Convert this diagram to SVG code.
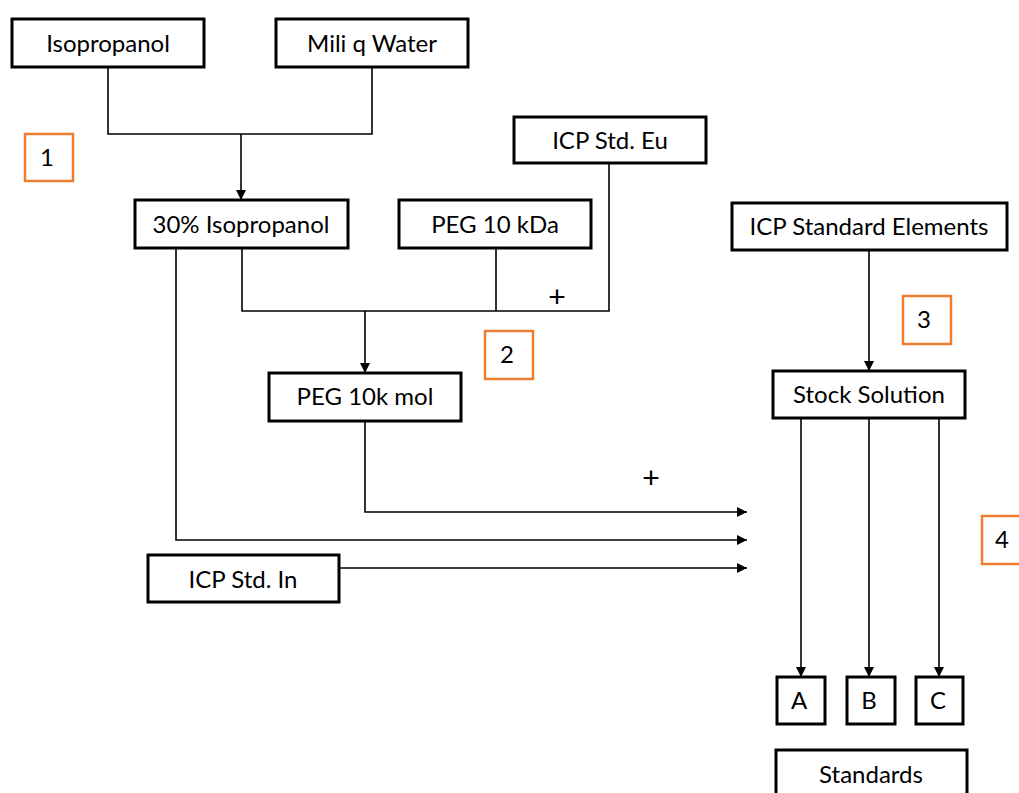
<svg xmlns="http://www.w3.org/2000/svg" width="1019" height="793" viewBox="0 0 1019 793">
<defs>
<style>
.box{fill:#fff;stroke:#000;stroke-width:3}
.badge{fill:#fff;stroke:#ED7D31;stroke-width:2.5}
.t{font-family:Lato,"Open Sans",sans-serif;font-size:24px;fill:#000;text-anchor:middle}
.p{font-family:"Liberation Sans",sans-serif;font-size:30px;fill:#000;text-anchor:middle}
.c{fill:none;stroke:#000;stroke-width:1.6}
</style>
<marker id="ah" viewBox="0 0 10 10" refX="10" refY="5" markerWidth="10" markerHeight="10" markerUnits="userSpaceOnUse" orient="auto">
<path d="M0,0 L10,5 L0,10 Z" fill="#000"/>
</marker>
</defs>
<rect width="1019" height="793" fill="#fff"/>
<g id="connectors">
<polyline class="c" points="108,67 108,134 372,134 372,67"/>
<line class="c" x1="241" y1="134" x2="241" y2="200" marker-end="url(#ah)"/>
<polyline class="c" points="242,248 242,311 609,311 609,163"/>
<line class="c" x1="496" y1="248" x2="496" y2="311"/>
<line class="c" x1="365" y1="311" x2="365" y2="373" marker-end="url(#ah)"/>
<line class="c" x1="869" y1="250" x2="869" y2="371" marker-end="url(#ah)"/>
<polyline class="c" points="365,421 365,512 747,512" marker-end="url(#ah)"/>
<polyline class="c" points="176,248 176,540 747,540" marker-end="url(#ah)"/>
<line class="c" x1="338" y1="568" x2="747" y2="568" marker-end="url(#ah)"/>
<line class="c" x1="801" y1="418" x2="801" y2="677" marker-end="url(#ah)"/>
<line class="c" x1="869" y1="418" x2="869" y2="677" marker-end="url(#ah)"/>
<line class="c" x1="939" y1="418" x2="939" y2="677" marker-end="url(#ah)"/>
<text class="p" x="557" y="307">+</text>
<text class="p" x="651" y="488">+</text>
</g>
<g id="isopropanol"><rect class="box" x="12" y="19" width="192" height="48"/><text class="t" x="108" y="52">Isopropanol</text></g>
<g id="mili-q-water"><rect class="box" x="276" y="19" width="192" height="48"/><text class="t" x="372" y="52">Mili q Water</text></g>
<g id="badge1"><rect class="badge" x="25" y="134" width="48" height="47"/><text class="t" x="47" y="166">1</text></g>
<g id="isopropanol-30"><rect class="box" x="135" y="200" width="213" height="48"/><text class="t" x="241" y="233">30% Isopropanol</text></g>
<g id="peg-10kda"><rect class="box" x="399" y="200" width="192" height="48"/><text class="t" x="495" y="233">PEG 10 kDa</text></g>
<g id="icp-std-eu"><rect class="box" x="514" y="117" width="192" height="46"/><text class="t" x="610" y="149">ICP Std. Eu</text></g>
<g id="icp-standard-elements"><rect class="box" x="732" y="203" width="275" height="47"/><text class="t" x="869" y="235">ICP Standard Elements</text></g>
<g id="badge2"><rect class="badge" x="485" y="331" width="48" height="48"/><text class="t" x="507" y="363">2</text></g>
<g id="badge3"><rect class="badge" x="903" y="296" width="48" height="48"/><text class="t" x="924" y="328">3</text></g>
<g id="peg-10k-mol"><rect class="box" x="269" y="373" width="192" height="48"/><text class="t" x="365" y="405">PEG 10k mol</text></g>
<g id="stock-solution"><rect class="box" x="773" y="371" width="192" height="47"/><text class="t" x="869" y="403">Stock Solution</text></g>
<g id="icp-std-in"><rect class="box" x="148" y="555" width="191" height="47"/><text class="t" x="243" y="588">ICP Std. In</text></g>
<g id="badge4"><rect class="badge" x="982" y="516" width="48" height="48"/><text class="t" x="1002" y="548">4</text></g>
<g id="a"><rect class="box" x="777" y="677" width="48" height="47"/><text class="t" x="799" y="709">A</text></g>
<g id="b"><rect class="box" x="847" y="677" width="48" height="47"/><text class="t" x="869" y="709">B</text></g>
<g id="c"><rect class="box" x="916" y="677" width="47" height="47"/><text class="t" x="938" y="709">C</text></g>
<g id="standards"><rect class="box" x="776" y="750" width="191" height="60"/><text class="t" x="871" y="783">Standards</text></g>
</svg>
